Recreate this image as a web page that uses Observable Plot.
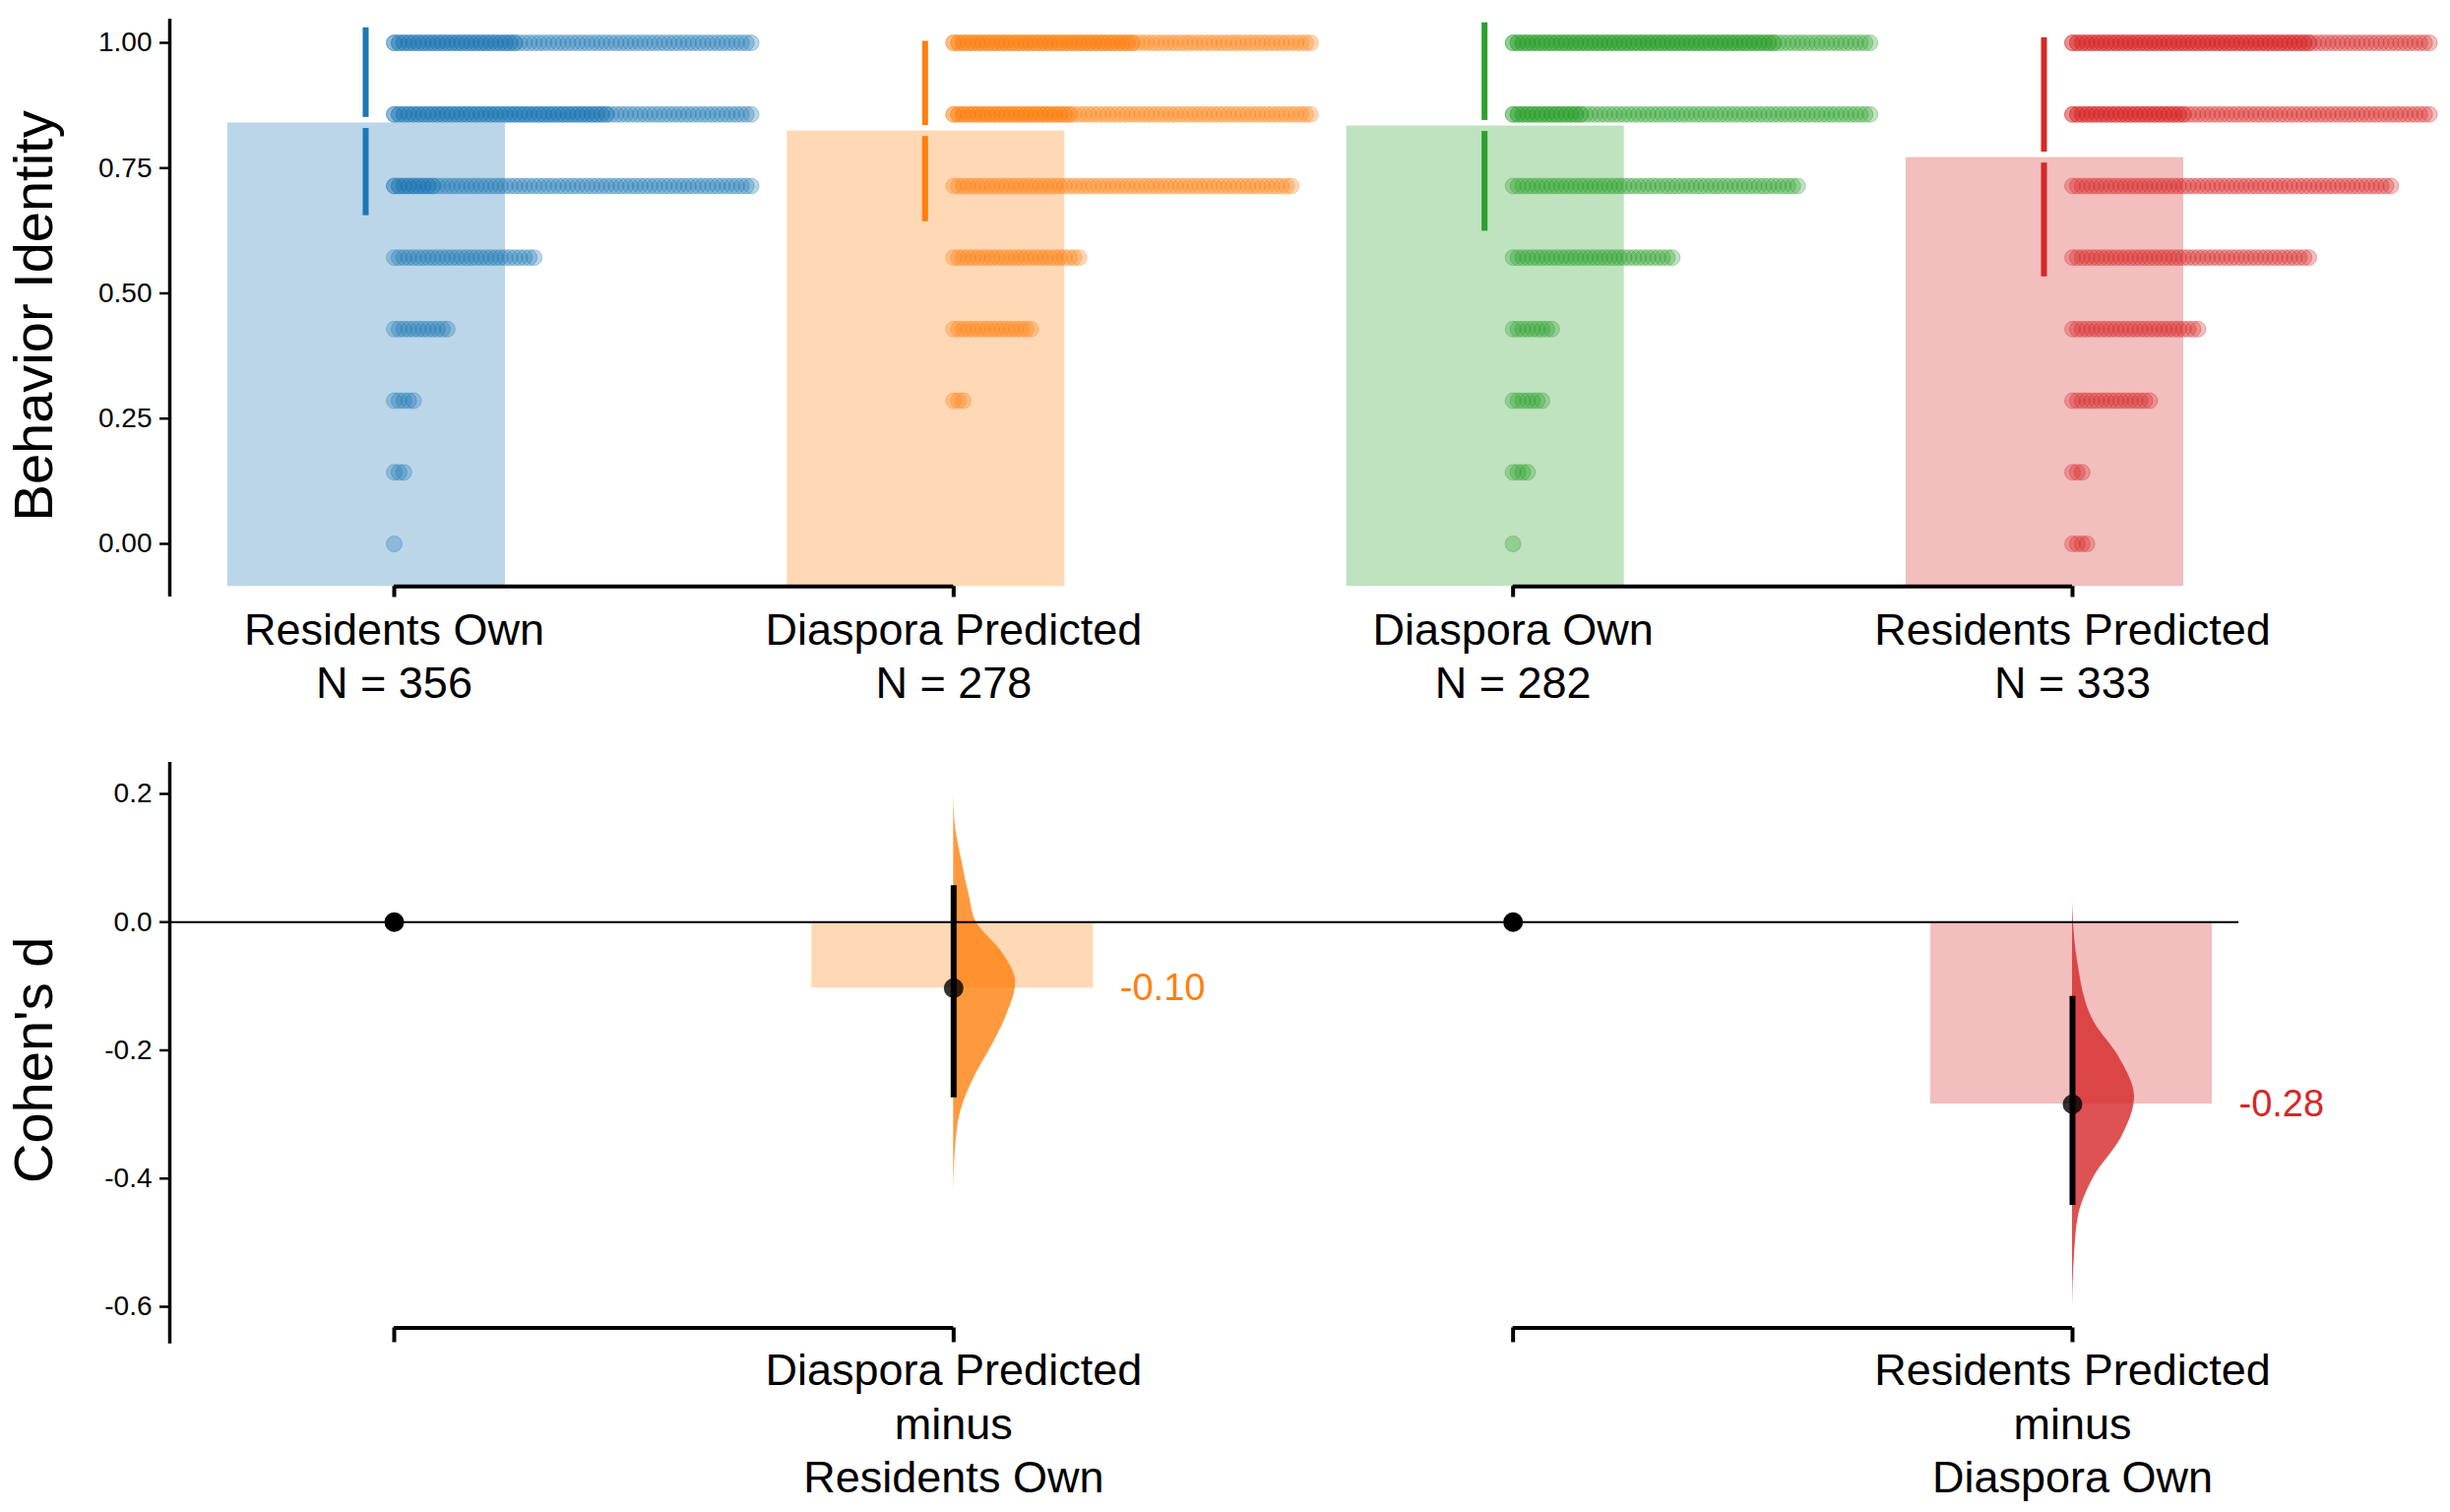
<!DOCTYPE html>
<html><head><meta charset="utf-8">
<script src="https://cdn.jsdelivr.net/npm/d3@7"></script>
<script src="https://cdn.jsdelivr.net/npm/@observablehq/plot@0.6"></script>
<style>body{margin:0;background:#fff}svg{display:block}</style>
</head><body><div id="topPanel"></div><div id="botPanel"></div>
<script>
const groups = ["Residents Own","Diaspora Predicted","Diaspora Own","Residents Predicted"];
const nLabels = ["N = 356","N = 278","N = 282","N = 333"];
const colors = ["#1f77b4","#ff7f0e","#2ca02c","#d62728"];
const levels = [0,1/7,2/7,3/7,4/7,5/7,6/7,1];
const counts = [
  [1,3,5,12,30,84,120,101],
  [0,0,3,17,27,71,100,113],
  [1,4,7,9,34,60,90,130],
  [4,3,17,27,50,67,99,125]
];
const means = [0.84,0.824,0.834,0.771];
const sdLo = [0.655,0.643,0.624,0.533];
const sdHi = [1.03,1.003,1.04,1.01];
const yTicksTop = [0,0.25,0.5,0.75,1];

const diffLabels = [["Diaspora Predicted","minus","Residents Own"],["Residents Predicted","minus","Diaspora Own"]];
const diffGroup = [1,3];
const diffRef = [0,2];
const diffVal = [-0.103,-0.284];
const ciLo = [-0.274,-0.442];
const ciHi = [0.057,-0.116];
const violinO = [[0.2,0],[0.16,1],[0.09,9],[0.04,16],[0,23],[-0.047,49],[-0.094,63],[-0.148,53],[-0.195,38],[-0.242,21],[-0.296,7],[-0.35,2],[-0.42,0]];
const violinR = [[0.03,0],[-0.06,5],[-0.156,22],[-0.21,47],[-0.273,63],[-0.335,50],[-0.397,22],[-0.459,6],[-0.52,2],[-0.6,0]];
const yTicksBot = [0.2,0,-0.2,-0.4,-0.6];

const W = 2489, unitPx = (2105-400)/3, font = "Liberation Sans, Arial, sans-serif";
const xs = {domain:[0,3], range:[400,2105]};
const step = 4.9, layer = 75, gap = 0.011;

const dots = [];
counts.forEach((row,g)=>row.forEach((c,k)=>{for(let i=0;i<c;i++)dots.push({x:g+((i%layer)*step)/unitPx,y:levels[k],g});}));
const bars = groups.map((n,g)=>({g,x1:g-169/unitPx,x2:g+113/unitPx,y:means[g]}));
const errs = [];
groups.forEach((n,g)=>{const x=g-29/unitPx;errs.push({x,y1:sdLo[g],y2:means[g]-gap,g},{x,y1:means[g]+gap,y2:sdHi[g],g});});
const axX = -228/unitPx;

const topPlot = Plot.plot({
  width:W,height:720,marginLeft:172,marginTop:0,marginRight:0,marginBottom:0,
  x:{...xs,axis:null},y:{domain:[0,1],range:[552,43],axis:null},
  style:{fontFamily:font,background:"#fff"},
  marks:[
    Plot.rectY(bars,{x1:"x1",x2:"x2",y1:-0.085,y2:"y",fill:d=>colors[d.g],fillOpacity:0.3}),
    Plot.dot(dots,{x:"x",y:"y",r:8,fill:d=>colors[d.g],fillOpacity:0.3,stroke:d=>colors[d.g],strokeOpacity:0.35,strokeWidth:1}),
    Plot.ruleX(errs,{x:"x",y1:"y1",y2:"y2",stroke:d=>colors[d.g],strokeWidth:6}),
    Plot.axisY(yTicksTop,{anchor:"left",tickFormat:d=>d.toFixed(2),fontSize:28,tickSize:10,tickPadding:8,strokeWidth:2.5,label:null}),
    Plot.ruleX([axX],{y1:-0.106,y2:1.047,strokeWidth:3.5}),
    Plot.ruleY([[0,1],[2,3]],{x1:d=>d[0],x2:d=>d[1],y:-0.085,strokeWidth:4}),
    Plot.ruleX([0,1,2,3],{x:d=>d,y1:-0.085,y2:-0.107,strokeWidth:4}),
    Plot.text(groups,{x:(d,i)=>i,y:-0.085,dy:45,text:d=>d,fontSize:45,fill:"#000"}),
    Plot.text(nLabels,{x:(d,i)=>i,y:-0.085,dy:99,text:d=>d,fontSize:45,fill:"#000"}),
    Plot.text(["Behavior Identity"],{x:axX,dx:-137,y:0.455,rotate:-90,fontSize:56,fill:"#000"})
  ]
});
document.getElementById("topPanel").append(topPlot);

const vO = violinO.map(([y,w])=>({y,x1:1,x2:1+w/unitPx}));
const vR = violinR.map(([y,w])=>({y,x1:3,x2:3+w/unitPx}));
const effs = diffGroup.map((g,i)=>({g,v:diffVal[i],lo:ciLo[i],hi:ciHi[i],c:colors[g]}));
const botPlot = Plot.plot({
  width:W,height:816,marginLeft:172,marginTop:0,marginRight:0,marginBottom:0,
  x:{...xs,axis:null},y:{domain:[-0.6,0.2],range:[607,86],axis:null},
  style:{fontFamily:font,background:"#fff"},
  marks:[
    Plot.rectY(effs,{x1:d=>d.g-144/unitPx,x2:d=>d.g+142/unitPx,y1:0,y2:"v",fill:"c",fillOpacity:0.3}),
    Plot.areaX(vO,{y:"y",x1:"x1",x2:"x2",fill:colors[1],fillOpacity:0.8,curve:"monotone-y"}),
    Plot.areaX(vR,{y:"y",x1:"x1",x2:"x2",fill:colors[3],fillOpacity:0.8,curve:"monotone-y"}),
    Plot.ruleY([0],{x1:axX,x2:3+(2274-2105)/unitPx,strokeWidth:2}),
    Plot.dot(diffRef,{x:d=>d,y:0,r:10,fill:"#000"}),
    Plot.ruleX(effs,{x:"g",y1:"lo",y2:"hi",strokeWidth:6,stroke:"#000"}),
    Plot.dot(effs,{x:"g",y:"v",r:10,fill:"#000",fillOpacity:0.8}),
    Plot.text(effs,{x:d=>d.g+169/unitPx,y:"v",text:d=>d.v.toFixed(2),fill:"c",textAnchor:"start",fontSize:38}),
    Plot.axisY(yTicksBot,{anchor:"left",tickFormat:d=>d.toFixed(1),fontSize:28,tickSize:10,tickPadding:8,strokeWidth:2.5,label:null}),
    Plot.ruleX([axX],{y1:-0.658,y2:0.249,strokeWidth:3.5}),
    Plot.ruleY([[0,1],[2,3]],{x1:d=>d[0],x2:d=>d[1],y:-0.633,strokeWidth:4}),
    Plot.ruleX([0,1,2,3],{x:d=>d,y1:-0.633,y2:-0.656,strokeWidth:4}),
    ...[0,1,2].map(j=>Plot.text(diffLabels,{x:(d,i)=>diffGroup[i],y:-0.633,dy:44+j*54.5,text:d=>d[j],fontSize:45,fill:"#000"})),
    Plot.text(["Cohen's d"],{x:axX,dx:-137,y:-0.215,rotate:-90,fontSize:56,fill:"#000"})
  ]
});
document.getElementById("botPanel").append(botPlot);
</script></body></html>
